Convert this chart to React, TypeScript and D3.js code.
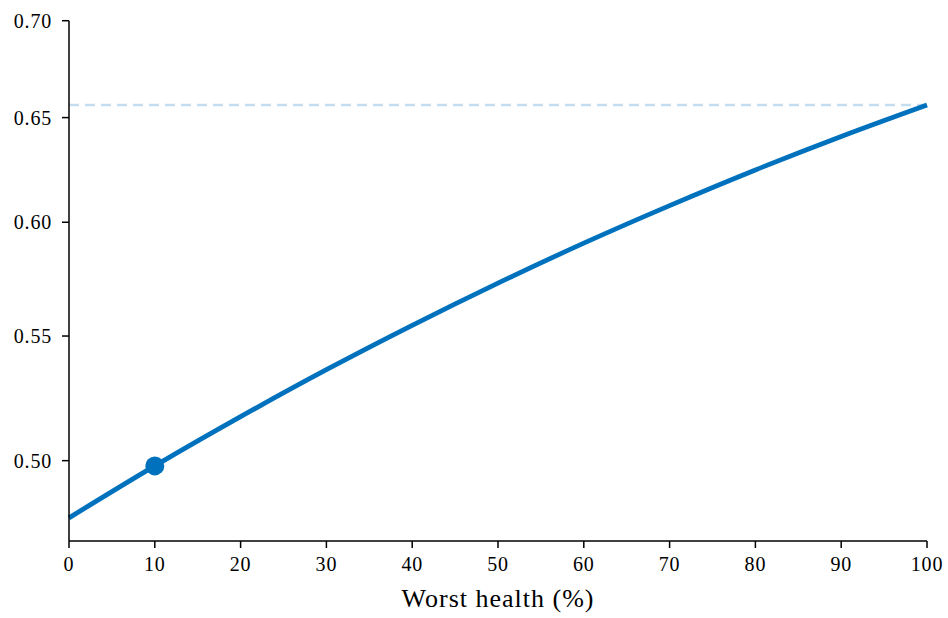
import React from "react";
import * as d3 from "d3";

const worstHealth = [0, 10, 20, 30, 40, 50, 60, 70, 80, 90, 100];
const ratioValues = [0.4786, 0.498, 0.5171, 0.536, 0.5545, 0.5727, 0.5905, 0.6077, 0.6245, 0.6407, 0.6563];
const markerX = 10;
const markerY = 0.498;
const referenceLevel = 0.6563;
const xTicks = [0, 10, 20, 30, 40, 50, 60, 70, 80, 90, 100];
const yTicks = [0.5, 0.55, 0.6, 0.65, 0.7];
const xLabel = "Worst health (%)";

const W = 948;
const H = 618;
const left = 69;
const right = 927;
const top = 20.7;
const bottom = 541;

export default function App() {
  const x = d3.scaleLinear().domain([0, 100]).range([left, right]);
  const y = d3.scaleLog().domain([0.4702, 0.7]).range([bottom, top]);
  const pts = worstHealth.map((d, i) => [d, ratioValues[i]] as [number, number]);
  const line = d3
    .line<[number, number]>()
    .x((d) => x(d[0]))
    .y((d) => y(d[1]))
    .curve(d3.curveMonotoneX);
  const font = "'Liberation Serif', 'Times New Roman', serif";
  const blue = "#0072BD";
  return (
    <svg
      width={W}
      height={H}
      style={{ position: "absolute", left: 0, top: 0, background: "#fff" }}
      fontFamily={font}
    >
      <line
        x1={x(0)}
        x2={x(100)}
        y1={y(referenceLevel)}
        y2={y(referenceLevel)}
        stroke="#c6dcef"
        strokeWidth={2.5}
        strokeDasharray="10 6"
      />
      <path d={line(pts) || ""} fill="none" stroke={blue} strokeWidth={4.8} strokeLinecap="butt" />
      <circle cx={x(markerX)} cy={y(markerY)} r={9.5} fill={blue} />
      <line x1={left} x2={left} y1={top} y2={bottom} stroke="#000" strokeWidth={1.5} />
      <line x1={left} x2={right} y1={bottom} y2={bottom} stroke="#000" strokeWidth={1.5} />
      {yTicks.map((t) => (
        <g key={t}>
          <line x1={left - 7} x2={left} y1={y(t)} y2={y(t)} stroke="#000" strokeWidth={1.5} />
          <text
            x={52}
            y={y(t)}
            dy="0.35em"
            textAnchor="end"
            fontSize={20}
            letterSpacing={0.8}
            fill="#000"
          >
            {t.toFixed(2)}
          </text>
        </g>
      ))}
      {xTicks.map((t) => (
        <g key={t}>
          <line x1={x(t)} x2={x(t)} y1={bottom} y2={bottom + 7} stroke="#000" strokeWidth={1.5} />
          <text x={x(t)} y={571} textAnchor="middle" fontSize={20} letterSpacing={0.8} fill="#000">
            {t}
          </text>
        </g>
      ))}
      <text x={(left + right) / 2} y={607} textAnchor="middle" fontSize={26} letterSpacing={1} fill="#000">
        {xLabel}
      </text>
    </svg>
  );
}
